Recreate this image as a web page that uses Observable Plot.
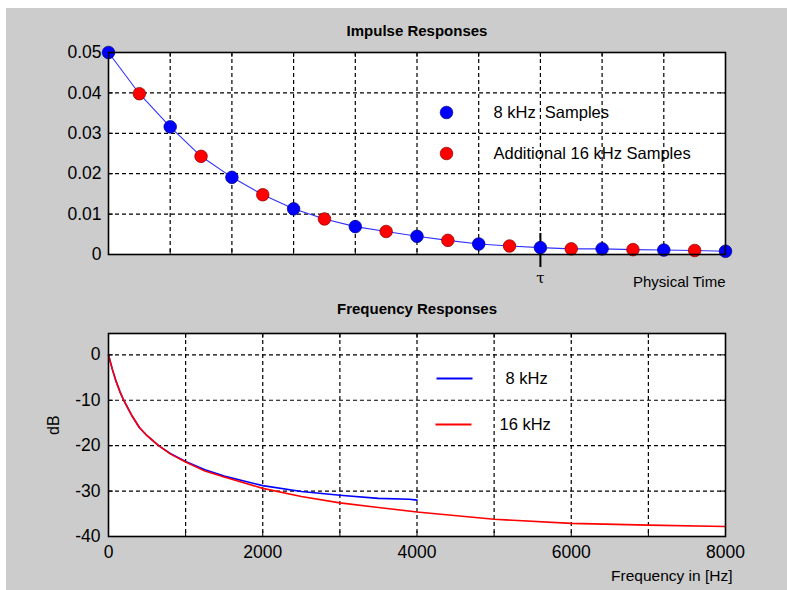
<!DOCTYPE html>
<html><head><meta charset="utf-8">
<script src="https://cdn.jsdelivr.net/npm/d3@7"></script>
<script src="https://cdn.jsdelivr.net/npm/@observablehq/plot@0.6"></script>
<style>
body{margin:0;background:#fff;}
#wrap{position:relative;width:787px;height:590px;background:#fff;overflow:hidden;font-family:"Liberation Sans",Arial,sans-serif;}
#bg{position:absolute;left:6px;top:8px;right:0;bottom:0;background:#cccccc;}
#topc,#botc{position:absolute;left:0;}
#topc{top:0;}
#botc{top:295px;}
svg text{white-space:pre;}
</style></head><body>
<div id="wrap"><div id="bg"></div><div id="topc"></div><div id="botc"></div></div>
<script>
// ---------- Data: impulse responses ----------
const sampleTime8k = [0, 1, 2, 3, 4, 5, 6, 7, 8, 9, 10];
const impulse8k = [0.05, 0.0316, 0.0191, 0.0113, 0.0069, 0.0045, 0.0026, 0.0017, 0.0014, 0.0011, 0.0008];
const sampleTime16k = [0.5, 1.5, 2.5, 3.5, 4.5, 5.5, 6.5, 7.5, 8.5, 9.5];
const impulse16k = [0.0398, 0.0243, 0.0148, 0.0088, 0.0057, 0.0035, 0.0021, 0.0014, 0.0012, 0.0010];
const timeGrid = [1, 2, 3, 4, 5, 6, 7, 8, 9];
const timeTicks = [0, 1, 2, 3, 4, 5, 6, 7, 8, 9, 10];
const tauTick = [7];
const tauLabel = ["τ"];
const impulseTicks = [0, 0.01, 0.02, 0.03, 0.04, 0.05];
const impulseGrid = [0.01, 0.02, 0.03, 0.04];
const impulseLegend = ["8 kHz  Samples", "Additional 16 kHz Samples"];

// ---------- Data: frequency responses ----------
const freq8k = [0, 50, 100, 150, 200, 300, 400, 500, 650, 800, 1000, 1250, 1500, 2000, 2500, 3000, 3500, 3900, 4000];
const dB8k = [0, -3.2, -5.9, -8.2, -10.1, -13.3, -16.0, -17.8, -20.0, -21.7, -23.5, -25.3, -26.7, -28.8, -30.1, -30.9, -31.6, -31.8, -32.0];
const freq16k = [0, 50, 100, 150, 200, 300, 400, 500, 650, 800, 1000, 1250, 1500, 2000, 2500, 3000, 3500, 4000, 5000, 6000, 7000, 8000];
const dB16k = [0, -3.2, -5.9, -8.2, -10.1, -13.3, -16.0, -17.8, -20.0, -21.8, -23.6, -25.6, -26.9, -29.4, -31.2, -32.6, -33.6, -34.6, -36.2, -37.1, -37.5, -37.8];
const freqGrid = [1000, 2000, 3000, 4000, 5000, 6000, 7000];
const freqAllTicks = [0, 1000, 2000, 3000, 4000, 5000, 6000, 7000, 8000];
const freqLabelTicks = [0, 2000, 4000, 6000, 8000];
const dbTicks = [-40, -30, -20, -10, 0];
const dbGrid = [-30, -20, -10, 0];
const freqLegend = ["8 kHz", "16 kHz"];

const titles = ["Impulse Responses", "Frequency Responses"];
const axisLabels = ["Physical Time", "Frequency in [Hz]", "dB"];

// ---------- Styling ----------
const FONT = "Liberation Sans, Arial, sans-serif";
const BLUE = "#0000ff", RED = "#ff0000";
const dash = {stroke: "black", strokeWidth: 1.2, strokeDasharray: "4,3"};
const W = 787, H = 295;
const mid = {lineAnchor: "middle"};

// ---------- Top chart ----------
const tm = {top: 52, bottom: 41, left: 108, right: 62};
const tfh = H - tm.top - tm.bottom, tfw = W - tm.left - tm.right;
const samples8k = sampleTime8k.map((t, i) => ({t, v: impulse8k[i]}));
const samples16k = sampleTime16k.map((t, i) => ({t, v: impulse16k[i]}));
const allSamples = [...samples8k, ...samples16k].sort((a, b) => a.t - b.t);

const topChart = Plot.plot({
  width: W, height: H,
  marginTop: tm.top, marginBottom: tm.bottom, marginLeft: tm.left, marginRight: tm.right,
  style: {background: "transparent", fontFamily: FONT, color: "black", overflow: "visible"},
  x: {domain: [0, 10], axis: null},
  y: {domain: [0, 0.05]},
  marks: [
    Plot.frame({fill: "white", stroke: null}),
    Plot.ruleX(timeGrid, {x: d => d, ...dash}),
    Plot.ruleY(impulseGrid, {y: d => d, ...dash}),
    Plot.tickX(timeTicks, {x: d => d, insetTop: tfh - 5, stroke: "black"}),
    Plot.tickX(timeTicks, {x: d => d, insetBottom: tfh - 5, stroke: "black"}),
    Plot.tickY(impulseTicks, {y: d => d, insetRight: tfw - 5, stroke: "black"}),
    Plot.tickY(impulseTicks, {y: d => d, insetLeft: tfw - 5, stroke: "black"}),
    Plot.tickX(tauTick, {x: d => d, insetTop: tfh - 21, insetBottom: -13, stroke: "black", strokeWidth: 2}),
    Plot.line(allSamples, {x: "t", y: "v", stroke: "#3030ff", strokeWidth: 1.1}),
    Plot.dot(samples16k, {x: "t", y: "v", r: 6.3, fill: RED, stroke: "#8a0000", strokeWidth: 0.7}),
    Plot.dot(samples8k, {x: "t", y: "v", r: 6.3, fill: BLUE, stroke: "#00007a", strokeWidth: 0.7}),
    Plot.frame({stroke: "black", strokeWidth: 1.6}),
    Plot.axisY({ticks: impulseTicks, tickSize: 0, tickPadding: 7, fontSize: 17.5, tickFormat: d => String(d), label: null}),
    Plot.text(tauTick, {x: d => d, text: (d, i) => tauLabel[i], frameAnchor: "bottom", dy: 24, fontSize: 15, fontFamily: "DejaVu Serif, serif", ...mid}),
    Plot.text([titles[0]], {frameAnchor: "top", dy: -21, fontSize: 15, fontWeight: "bold", ...mid}),
    Plot.text([axisLabels[0]], {frameAnchor: "bottom-right", textAnchor: "end", dy: 28, fontSize: 15, ...mid}),
    // legend
    Plot.dot([impulseLegend[0]], {frameAnchor: "top-left", dx: 338, dy: 60, r: 6.3, fill: BLUE, stroke: "#00007a", strokeWidth: 0.7}),
    Plot.dot([impulseLegend[1]], {frameAnchor: "top-left", dx: 338, dy: 101, r: 6.3, fill: RED, stroke: "#8a0000", strokeWidth: 0.7}),
    Plot.text([impulseLegend[0]], {frameAnchor: "top-left", textAnchor: "start", dx: 385, dy: 60, fontSize: 16.5, ...mid}),
    Plot.text([impulseLegend[1]], {frameAnchor: "top-left", textAnchor: "start", dx: 385, dy: 101, fontSize: 16.5, ...mid})
  ]
});
document.getElementById("topc").appendChild(topChart);

// ---------- Bottom chart ----------
const bm = {top: 38, bottom: 54, left: 108, right: 62};
const bfh = H - bm.top - bm.bottom, bfw = W - bm.left - bm.right;
const resp8k = freq8k.map((f, i) => ({f, db: dB8k[i]}));
const resp16k = freq16k.map((f, i) => ({f, db: dB16k[i]}));
const hline = {draw(ctx, size) { const r = Math.sqrt(size / Math.PI); ctx.moveTo(-r, 0); ctx.lineTo(r, 0); }};

const botChart = Plot.plot({
  width: W, height: H,
  marginTop: bm.top, marginBottom: bm.bottom, marginLeft: bm.left, marginRight: bm.right,
  style: {background: "transparent", fontFamily: FONT, color: "black", overflow: "visible"},
  x: {domain: [0, 8000]},
  y: {domain: [-40, 4.7]},
  marks: [
    Plot.frame({fill: "white", stroke: null}),
    Plot.ruleX(freqGrid, {x: d => d, ...dash}),
    Plot.ruleY(dbGrid, {y: d => d, ...dash}),
    Plot.tickX(freqAllTicks, {x: d => d, insetTop: bfh - 5, stroke: "black"}),
    Plot.tickX(freqAllTicks, {x: d => d, insetBottom: bfh - 5, stroke: "black"}),
    Plot.tickY(dbTicks, {y: d => d, insetRight: bfw - 5, stroke: "black"}),
    Plot.tickY(dbTicks, {y: d => d, insetLeft: bfw - 5, stroke: "black"}),
    Plot.line(resp8k, {x: "f", y: "db", stroke: BLUE, strokeWidth: 1.6}),
    Plot.line(resp16k, {x: "f", y: "db", stroke: RED, strokeWidth: 1.6}),
    Plot.frame({stroke: "black", strokeWidth: 1.6}),
    Plot.axisY({ticks: dbTicks, tickSize: 0, tickPadding: 8, fontSize: 17.5, tickFormat: d => String(d), label: null}),
    Plot.axisX({ticks: freqLabelTicks, tickSize: 0, tickPadding: 9, fontSize: 17.5, tickFormat: d => String(d), label: null}),
    Plot.text([titles[1]], {frameAnchor: "top", dy: -24, fontSize: 15, fontWeight: "bold", ...mid}),
    Plot.text([axisLabels[1]], {frameAnchor: "bottom-right", textAnchor: "end", dx: 7, dy: 40, fontSize: 15.5, ...mid}),
    Plot.text([axisLabels[2]], {frameAnchor: "left", dx: -55, rotate: -90, fontSize: 16, ...mid}),
    // legend
    Plot.dot([freqLegend[0]], {frameAnchor: "top-left", dx: 346, dy: 45, r: 18, symbol: hline, fill: "none", stroke: BLUE, strokeWidth: 2}),
    Plot.dot([freqLegend[1]], {frameAnchor: "top-left", dx: 345, dy: 91, r: 18, symbol: hline, fill: "none", stroke: RED, strokeWidth: 2}),
    Plot.text([freqLegend[0]], {frameAnchor: "top-left", textAnchor: "start", dx: 397, dy: 45, fontSize: 16.5, ...mid}),
    Plot.text([freqLegend[1]], {frameAnchor: "top-left", textAnchor: "start", dx: 391, dy: 91, fontSize: 16.5, ...mid})
  ]
});
document.getElementById("botc").appendChild(botChart);
</script>
</body></html>
